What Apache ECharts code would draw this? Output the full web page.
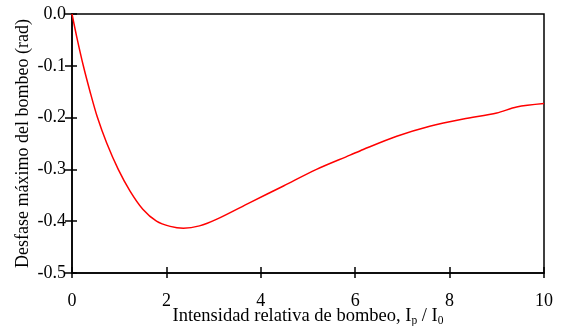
<!DOCTYPE html>
<html>
<head>
<meta charset="utf-8">
<script src="https://cdn.jsdelivr.net/npm/echarts@6/dist/echarts.min.js"></script>
<style>html,body{margin:0;padding:0;background:#fff;}#c{width:571px;height:326px;}</style>
</head>
<body>
<div id="c"></div>
<script>
var xValues = [0, 0.1, 0.24, 0.38, 0.54, 0.735, 0.98, 1.23, 1.5, 1.79, 2.08, 2.36, 2.7, 3.07, 3.77, 4.48, 5.18, 5.89, 6.17, 6.88, 7.58, 8.29, 9.0, 9.42, 10];
var yValues = [0, -0.044, -0.1, -0.149, -0.2, -0.249, -0.3, -0.342, -0.377, -0.4, -0.41, -0.4135, -0.409, -0.396, -0.364, -0.332, -0.300, -0.2725, -0.2615, -0.236, -0.2167, -0.2026, -0.191, -0.1795, -0.173];
var xTicks = [0, 2, 4, 6, 8, 10];
var yTicks = [0, -0.1, -0.2, -0.3, -0.4, -0.5];

var font = 'Liberation Serif';
var chart = echarts.init(document.getElementById('c'));
var data = xValues.map(function (x, i) { return [x, yValues[i]]; });
var tickStyle = { color: '#000', width: 1.5 };
var gridRect = { left: 72, right: 27, top: 14, bottom: 53, containLabel: false, outerBoundsMode: 'none' };
var xMin = xTicks[0], xMax = xTicks[xTicks.length - 1];
var yMin = yTicks[yTicks.length - 1], yMax = yTicks[0];
chart.setOption({
  animation: false,
  backgroundColor: '#fff',
  grid: [
    Object.assign({ show: true, borderColor: '#000', borderWidth: 1.5 }, gridRect),
    Object.assign({ show: false }, gridRect)
  ],
  xAxis: [
    {
      gridIndex: 0, type: 'value', min: xMin, max: xMax, interval: 2, position: 'bottom',
      axisLine: { show: true, onZero: false, lineStyle: { color: '#000', width: 1.5 } },
      splitLine: { show: false },
      axisTick: { show: true, inside: false, length: 5, lineStyle: tickStyle },
      axisLabel: { color: '#000', fontFamily: font, fontSize: 18, margin: 19 },
      name: '{n|Intensidad relativa de bombeo, I}{s|p}{n| / I}{s|0}',
      nameLocation: 'middle', nameGap: 33, nameMoveOverlap: false,
      nameTextStyle: {
        rich: {
          n: { fontFamily: font, fontSize: 18.5, color: '#000' },
          s: { fontFamily: font, fontSize: 11.5, color: '#000', padding: [9, 0, 0, 0] }
        }
      }
    },
    {
      gridIndex: 1, type: 'value', min: xMin, max: xMax, interval: 2, position: 'bottom',
      axisLine: { show: false, onZero: false }, splitLine: { show: false },
      axisTick: { show: true, inside: true, length: 6, lineStyle: tickStyle },
      axisLabel: { show: false }
    }
  ],
  yAxis: [
    {
      gridIndex: 0, type: 'value', min: yMin, max: yMax, interval: 0.1, position: 'left',
      axisLine: { show: true, onZero: false, lineStyle: { color: '#000', width: 1.5 } },
      splitLine: { show: false },
      axisTick: { show: true, inside: false, length: 7, lineStyle: tickStyle },
      axisLabel: { color: '#000', fontFamily: font, fontSize: 18, margin: 6,
        formatter: function (v) { return v.toFixed(1); } },
      name: 'Desfase máximo del bombeo (rad)',
      nameLocation: 'middle', nameGap: 40, nameMoveOverlap: false,
      nameTextStyle: { fontFamily: font, fontSize: 18, color: '#000' }
    },
    {
      gridIndex: 1, type: 'value', min: yMin, max: yMax, interval: 0.1, position: 'left',
      axisLine: { show: false, onZero: false }, splitLine: { show: false },
      axisTick: { show: true, inside: true, length: 5, lineStyle: tickStyle },
      axisLabel: { show: false }
    }
  ],
  series: [{
    type: 'line', data: data, smooth: 0.3, showSymbol: false,
    lineStyle: { color: '#ff0000', width: 1.5 }, xAxisIndex: 0, yAxisIndex: 0
  }]
});
</script>
</body>
</html>
